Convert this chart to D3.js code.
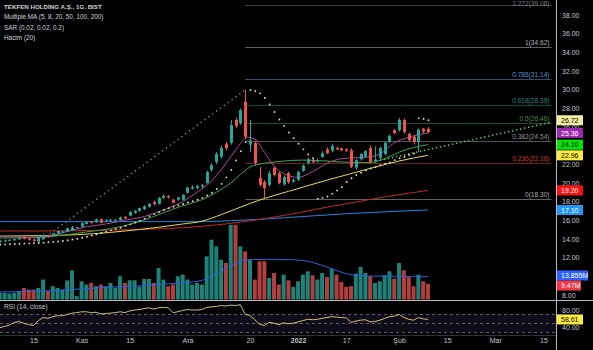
<!DOCTYPE html>
<html><head><meta charset="utf-8">
<script src="https://cdn.jsdelivr.net/npm/d3@7"></script>
<style>
body{margin:0;background:#000;overflow:hidden}
svg{display:block}
text{font-family:"Liberation Sans",Arial,sans-serif}
</style></head>
<body><svg id="c" width="593" height="350"></svg>
<script>
// ---------- DATA ----------
const idxStart = 2; // trading-day index of first bar (Oct 6, 2021)
const opens = [13.7,13.75,13.8,13.85,13.95,14.2,14.05,13.95,13.72,14.0,
 14.4,14.3,14.55,14.7,14.75,14.9,15.15,15.3,15.6,15.85,
 15.8,16.1,15.9,15.95,16.0,16.0,16.35,16.5,16.8,17.0,
 17.2,17.45,17.95,17.75,18.4,18.6,18.2,18.2,18.2,18.95,
 19.4,19.45,19.6,20.0,21.4,22.25,22.8,24.2,24.3,26.75,
 26.4,28.7,24.1,24.3,20.55,20.1,19.8,21.6,21.05,19.85,
 21.05,20.15,20.35,21.3,22.15,22.45,22.3,22.8,23.6,23.45,
 23.75,23.7,23.6,23.5,21.65,22.55,22.8,23.75,22.35,22.7,
 23.1,24.4,25.65,25.65,26.75,25.25,24.95,24.4,25.8,25.8];
const highs = [13.85,13.95,14.0,14.05,14.25,14.3,14.15,14.05,14.25,14.5,
 14.45,14.65,14.9,14.9,15.2,15.4,15.3,15.75,15.9,15.95,
 16.2,16.2,16.1,16.15,16.15,16.4,16.45,16.95,17.1,17.35,
 17.6,17.85,18.1,18.5,18.75,18.7,18.3,18.5,18.8,19.6,
 19.75,19.8,19.9,21.3,22.1,23.3,24.0,24.4,26.75,27.0,
 28.0,29.96,26.75,24.5,21.7,20.3,21.3,21.8,21.2,20.8,
 21.2,20.5,21.3,22.0,22.7,22.6,22.6,23.4,23.8,24.2,
 23.9,23.8,23.7,23.7,22.6,23.2,23.5,24.0,23.9,23.9,
 24.4,25.2,25.8,26.95,26.9,25.4,25.1,25.85,25.9,25.95];
const lows = [13.62,13.7,13.75,13.8,13.9,13.95,13.8,13.7,13.64,13.95,
 14.15,14.25,14.5,14.6,14.7,14.85,15.1,15.2,15.55,15.65,
 15.75,15.65,15.85,15.9,15.9,15.95,16.1,16.4,16.7,16.9,
 17.1,17.35,17.6,17.7,18.3,18.3,17.8,18.1,18.1,18.85,
 19.3,19.3,19.4,19.9,21.2,22.0,22.6,23.5,24.1,25.9,
 26.2,24.7,23.3,21.9,19.6,18.3,19.6,20.7,19.85,19.7,
 19.9,20.0,20.2,21.2,22.0,22.1,22.2,22.7,23.1,23.3,
 23.5,23.4,23.3,21.6,21.4,22.4,22.7,22.1,22.1,22.5,
 23.0,24.3,25.2,25.5,25.3,24.4,24.1,23.3,25.3,25.35];
const closes = [13.8,13.85,13.9,13.98,14.15,14.0,13.9,13.8,14.2,14.42,
 14.2,14.6,14.85,14.8,15.15,15.25,15.25,15.7,15.8,15.72,
 16.1,15.75,16.0,16.05,16.05,16.3,16.2,16.9,17.0,17.3,
 17.5,17.75,17.75,18.4,18.6,18.5,17.9,18.45,18.7,19.5,
 19.55,19.65,19.75,21.17,21.9,23.1,23.75,23.75,26.2,26.1,
 27.8,24.95,24.55,22.15,19.8,19.45,21.05,20.85,20.0,20.65,
 20.1,20.3,21.2,21.85,22.55,22.25,22.45,23.2,23.2,23.95,
 23.6,23.5,23.45,21.75,22.45,23.1,23.4,22.25,22.5,23.75,
 24.3,25.05,25.35,26.75,25.45,24.6,24.4,25.7,25.5,25.45];
const volumes = [4,4,3.6,4,5,7,6,6,7,12,
 5,8,7,6,11.5,17.5,2,11,9,10,
 8,9,8,10,7,14,10,11.6,11.6,7.6,
 12.4,12.4,10,19,12,8,9,14,15,12,
 9,10,9,26,36,32,24,22,45,45,
 32,29,24,12,23,23,13,16,9,15,
 11.6,7.6,11,15,17,14.6,12,16,13.6,18.6,
 15,10.6,7.6,8,15.6,19.6,16,14,10,11,
 14.6,17,12.6,22,17.6,13.6,8,15,11,9.47];
const rsiValues = [40,43,46,52,54,50,47,45,56,63,
 61,65,67,67,70,73,74,76,76,74,
 75,71,72,73,74,76,74,78,80,81,
 83,85,82,85,86,85,74,76,79,81,
 80,80,81,86,87,88,90,89,91,90,
 92,70,68,58,48,45,52,50,47,51,
 49,50,53,56,59,58,59,61,63,65,
 64,63,62,52,55,57,58,53,54,57,
 61,65,66,70,63,59,57,63,60,58.61];
const sarValues = [13.4,13.42,13.44,13.46,13.48,13.5,13.52,13.54,13.56,13.6,
 13.64,13.68,13.72,13.78,13.85,13.93,14.02,14.12,14.24,14.36,
 14.5,14.64,14.78,14.92,15.06,15.2,15.38,15.56,15.76,15.96,
 16.18,16.42,16.66,16.88,17.1,17.3,17.45,17.6,17.75,17.9,
 18.05,18.2,18.4,18.65,18.95,19.35,19.9,20.6,21.4,22.4,
 23.4,24.4,29.96,29.85,29.6,29.1,28.4,27.6,26.8,26.1,
 25.4,24.8,24.2,23.6,23.05,22.65,18.3,18.4,18.55,18.85,
 19.2,19.55,20.1,20.5,20.85,21.1,21.35,21.55,21.7,21.9,
 22.05,22.2,22.45,22.65,22.8,23.0,23.15,26.95,26.85,26.72];

// moving averages at sample bars
const ma8Idx  = [2,8,12,16,20,24,28,32,36,40,43,46,48,50,52,53.5,55,57,59,61,64,67,70,73,76,79,81,84,87,91];
const ma8Val  = [14.3,14.2,14.3,14.8,15.3,15.6,16.0,16.4,17.1,18.0,19.0,20.2,21.4,22.8,24.2,24.9,24.7,23.3,21.8,21.0,20.6,21.2,22.1,22.6,22.7,22.8,23.1,24.3,24.9,25.36];
const ma20Idx = [2,10,15,20,25,30,34,38,41,44,47,50,52,54,56,60,65,70,75,79,82,85,88,91];
const ma20Val = [14.1,14.15,14.4,14.75,15.1,15.7,16.4,17.2,17.7,18.2,19.0,20.0,20.9,21.7,22.0,22.3,22.45,22.35,22.2,22.2,22.6,23.3,23.8,24.1];
const ma50Idx = [2,10,18,25,30,35,40,44,48,51,54,58,62,66,70,75,80,85,91];
const ma50Val = [14.3,14.35,14.45,14.7,14.95,15.25,15.6,15.9,16.6,17.2,17.8,18.5,19.1,19.7,20.3,21.0,21.7,22.35,22.96];
const ma100Idx = [2,10,20,30,40,46,52,58,64,70,76,82,87,91];
const ma100Val = [14.85,14.85,14.9,15.0,15.2,15.45,15.8,16.25,16.8,17.4,17.95,18.5,18.9,19.2];
const ma200Idx = [2,20,35,44,50,56,62,68,74,80,86,91];
const ma200Val = [15.85,15.85,15.85,15.85,15.95,16.1,16.3,16.5,16.7,16.85,17.0,17.1];
const volMaIdx = [2,10,17,25,30,35,40,44,46,48,50,52,54,58,62,65,68,71,74,77,82,87,91];
const volMaVal = [4.5,5.0,6.0,7.5,8.0,9.0,10.0,11.5,14,17,20.5,23,24,24.2,24,23.5,21.5,18.5,15.5,14.3,14,14,13.855];

// trend-based fib extension
const fibRatios = ["1.272","1","0.786","0.618","0.5","0.382","0.236","0"];
const fibValues = [39.08,34.62,31.14,28.39,26.46,24.54,22.16,18.30];
const fibColors = ["#9598a1","#d1d4dc","#64b5f6","#26a69a","#4caf50","#b2b5be","#f44336","#d1d4dc"];
const fibStartIdx = 53, fibEndIdx = 116.7;
const trendAIdx = [10, 53], trendAVal = [13.64, 29.96];
const greenLineIdx = [81, 116.8], greenLineVal = [22.42, 26.53];

// axes
const priceTicks = [8,12,14,16,18,20,22,24,26,28,30,32,34,36,38];
const rsiTicks = [80, 40];
const timeIdx  = [9,19,29,41,54,64,74,85,95,105,115];
const timeText = ["15","Kas","15","Ara","20","2022","17","Şub","15","Mar","15"];
const priceBoxVals = [26.72,25.36,24.10,22.96,19.20,17.10];
const priceBoxBg   = ["#f3eea0","#9c27b0","#00e600","#ffeb3b","#ff1010","#2196f3"];
const priceBoxFg   = ["#000","#fff","#000","#000","#fff","#fff"];
const volBoxText = ["13.855M","9.47M"];
const volBoxBg = ["#2962ff","#f23645"];
const rsiLast = 58.61;
const legend = ["TEKFEN HOLDİNG A.Ş., 1G, BIST","Multiple MA (5, 8, 20, 50, 100, 200)","SAR (0.02, 0.02, 0.2)","Hacim (20)"];

// ---------- CHART ----------
const svg = d3.select("#c");
const W = 593, H = 350, AX = 556, PANE_B = 300;
svg.append("rect").attr("width",W).attr("height",H).attr("fill","#000");

const x = d3.scaleLinear().domain([9,115]).range([33.5,543.4]);
const y = d3.scaleLinear().domain([8,38]).range([294.9,15]);
const yVol = d3.scaleLinear().domain([0,45]).range([299.5,224.8]);
const yRsi = d3.scaleLinear().domain([40,80]).range([327.7,310]);

const bars = d3.range(opens.length).map(k => ({i: idxStart+k, o: opens[k], h: highs[k], l: lows[k], c: closes[k], v: volumes[k], r: rsiValues[k], s: sarValues[k]}));
const UP = "#26a69a", DN = "#ef5350";

const defs = svg.append("defs");
defs.append("clipPath").attr("id","mainClip").append("rect").attr("x",0).attr("y",0).attr("width",AX).attr("height",PANE_B);
defs.append("clipPath").attr("id","rsiClip").append("rect").attr("x",0).attr("y",PANE_B+1).attr("width",AX).attr("height",35);

const main = svg.append("g").attr("clip-path","url(#mainClip)");

// volume
main.append("g").selectAll("rect").data(bars).join("rect")
  .attr("x", d => x(d.i)-2).attr("width",4)
  .attr("y", d => yVol(d.v)).attr("height", d => yVol(0)-yVol(d.v))
  .attr("fill", d => d.c >= d.o ? "#1f8279" : "#b0403d");
const volLine = d3.line().x((d,k)=>x(volMaIdx[k])).y(d=>yVol(d)).curve(d3.curveMonotoneX);
main.append("path").attr("d", volLine(volMaVal)).attr("fill","none").attr("stroke","#2f5fe0").attr("stroke-width",1);

// fib levels
const fg = main.append("g");
fibValues.forEach((v,k) => {
  fg.append("line").attr("x1",x(fibStartIdx)).attr("x2",x(fibEndIdx))
    .attr("y1",Math.round(y(v))+0.5).attr("y2",Math.round(y(v))+0.5)
    .attr("stroke",fibColors[k]).attr("stroke-opacity",0.45).attr("stroke-width",1);
  fg.append("text").attr("x",x(fibEndIdx)-2).attr("y",k===0 ? 6.3 : y(v)-2).attr("text-anchor","end")
    .attr("font-size",6.6).attr("fill",fibColors[k]).attr("fill-opacity",0.85)
    .text(fibRatios[k]+"("+v.toFixed(2)+")");
});
// trend line A->B (dotted)
main.append("line").attr("x1",x(trendAIdx[0])).attr("y1",y(trendAVal[0]))
  .attr("x2",x(trendAIdx[1])).attr("y2",y(trendAVal[1]))
  .attr("stroke","#8d909a").attr("stroke-width",1.3).attr("stroke-dasharray","1.3,3.5");
// green dotted line
main.append("line").attr("x1",x(greenLineIdx[0])).attr("y1",y(greenLineVal[0]))
  .attr("x2",x(greenLineIdx[1])).attr("y2",y(greenLineVal[1]))
  .attr("stroke","#5cb85c").attr("stroke-width",1.6).attr("stroke-dasharray","1.5,2.6");

// moving averages
function maPath(idx, vals, color){
  const ln = d3.line().x((d,k)=>x(idx[k])).y(d=>y(d)).curve(d3.curveMonotoneX);
  main.append("path").attr("d", ln(vals)).attr("fill","none").attr("stroke",color).attr("stroke-width",1);
}
maPath(ma200Idx, ma200Val, "#1e88e5");
maPath(ma100Idx, ma100Val, "#c62828");
maPath(ma50Idx, ma50Val, "#e8d84a");
maPath(ma20Idx, ma20Val, "#3ea84a");
maPath(ma8Idx, ma8Val, "#b1479b");

// candles
const cg = main.append("g");
cg.selectAll("line").data(bars).join("line")
  .attr("x1", d => Math.round(x(d.i))+0.5).attr("x2", d => Math.round(x(d.i))+0.5)
  .attr("y1", d => y(d.h)).attr("y2", d => y(d.l))
  .attr("stroke", d => d.c >= d.o ? UP : DN).attr("stroke-width",1);
cg.selectAll("rect").data(bars).join("rect")
  .attr("x", d => Math.round(x(d.i))-1).attr("width",3)
  .attr("y", d => y(Math.max(d.o,d.c)))
  .attr("height", d => Math.max(1, Math.abs(y(d.o)-y(d.c))))
  .attr("fill", d => d.c >= d.o ? UP : DN);

// SAR dots
main.append("g").selectAll("circle").data(bars).join("circle")
  .attr("cx", d => x(d.i)+0.5).attr("cy", d => y(d.s)).attr("r",0.95)
  .attr("fill","#dcd9b4");

// legend
legend.forEach((t,k) => {
  svg.append("text").attr("x",4).attr("y",8.5+k*10.6).attr("font-size",k===0?6.2:6.4)
    .attr("fill","#d1d4dc").attr("font-weight",k===0?"bold":"normal").text(t);
});

// RSI pane
const rg = svg.append("g").attr("clip-path","url(#rsiClip)");
rg.append("rect").attr("x",0).attr("width",AX).attr("y",yRsi(70)).attr("height",yRsi(30)-yRsi(70))
  .attr("fill","#7e57c2").attr("fill-opacity",0.12);
[70,50,30].forEach(v => rg.append("line").attr("x1",0).attr("x2",AX)
  .attr("y1",Math.round(yRsi(v))+0.5).attr("y2",Math.round(yRsi(v))+0.5)
  .attr("stroke","#5d6070").attr("stroke-dasharray","3,3"));
const rsiLine = d3.line().x(d=>x(d.i)).y(d=>yRsi(d.r));
rg.append("path").attr("d", rsiLine(bars)).attr("fill","none").attr("stroke","#cfc27a").attr("stroke-width",1);
svg.append("text").attr("x",4).attr("y",308.5).attr("font-size",6.6).attr("fill","#c4c7cf").text("RSI (14, close)");

// separators
svg.append("line").attr("x1",0).attr("x2",W).attr("y1",PANE_B+0.5).attr("y2",PANE_B+0.5).attr("stroke","#b8bbc3").attr("stroke-width",1);
svg.append("line").attr("x1",0).attr("x2",AX).attr("y1",335.5).attr("y2",335.5).attr("stroke","#2a2e39");
svg.append("line").attr("x1",AX+0.5).attr("x2",AX+0.5).attr("y1",0).attr("y2",H).attr("stroke","#b8bbc3").attr("stroke-width",1);

// price axis
const pAx = svg.append("g").attr("transform",`translate(${AX},0)`)
  .call(d3.axisRight(y).tickValues(priceTicks).tickFormat(d3.format(".2f")).tickSize(0).tickPadding(6));
pAx.select(".domain").remove();
pAx.selectAll("text").attr("font-size",7).attr("fill","#c4c7cf").attr("font-family","Liberation Sans, Arial, sans-serif");

const rAx = svg.append("g").attr("transform",`translate(${AX},0)`)
  .call(d3.axisRight(yRsi).tickValues(rsiTicks).tickFormat(d3.format(".2f")).tickSize(0).tickPadding(6));
rAx.select(".domain").remove();
rAx.selectAll("text").attr("font-size",7).attr("fill","#c4c7cf").attr("font-family","Liberation Sans, Arial, sans-serif");

// time axis
const tAx = svg.append("g").attr("transform",`translate(0,336)`)
  .call(d3.axisBottom(x).tickValues(timeIdx).tickFormat((d,k)=>timeText[k]).tickSize(0).tickPadding(2));
tAx.select(".domain").remove();
tAx.selectAll("text").attr("font-size",7).attr("fill","#c4c7cf").attr("font-family","Liberation Sans, Arial, sans-serif")
  .attr("font-weight",(d,k)=>timeText[k]==="2022"?"bold":"normal");

// value boxes
function box(yc, txt, bg, fg, w){
  const g = svg.append("g");
  g.append("rect").attr("x",AX+1).attr("y",yc-5).attr("width",w).attr("height",10).attr("fill",bg);
  g.append("text").attr("x",AX+5).attr("y",yc+2.6).attr("font-size",7).attr("fill",fg).text(txt);
}
box(275.5, volBoxText[0], volBoxBg[0], "#fff", 31);
box(285.5, volBoxText[1], volBoxBg[1], "#fff", 24);
priceBoxVals.forEach((v,k) => box(y(v), v.toFixed(2), priceBoxBg[k], priceBoxFg[k], 26));
box(yRsi(rsiLast), rsiLast.toFixed(2), "#ffeb3b", "#000", 26);
</script></body></html>
